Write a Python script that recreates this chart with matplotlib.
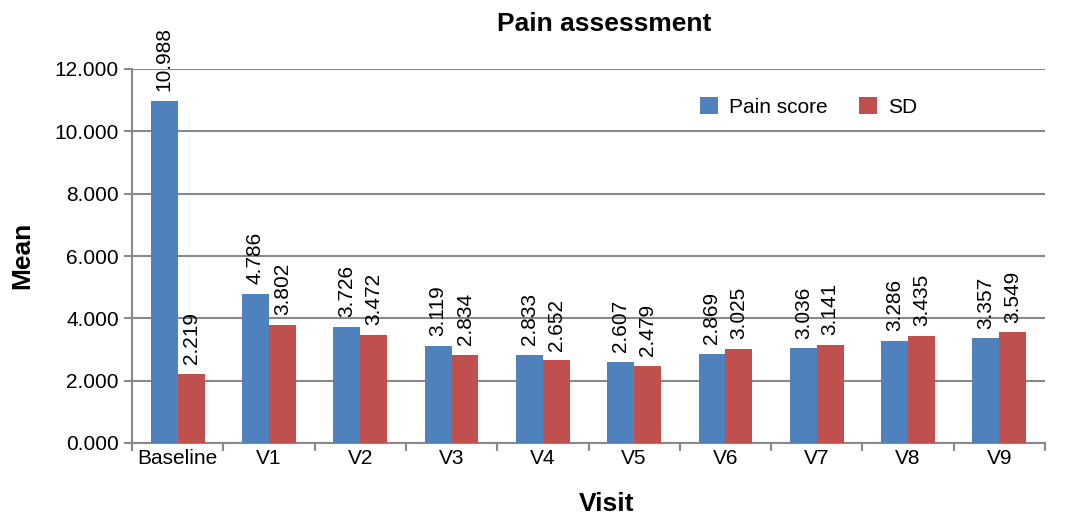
import matplotlib
matplotlib.use("Agg")
import matplotlib.pyplot as plt
import numpy as np

categories = ["Baseline", "V1", "V2", "V3", "V4", "V5", "V6", "V7", "V8", "V9"]
pain_score = [10.988, 4.786, 3.726, 3.119, 2.833, 2.607, 2.869, 3.036, 3.286, 3.357]
sd = [2.219, 3.802, 3.472, 2.834, 2.652, 2.479, 3.025, 3.141, 3.435, 3.549]
yticks = [0, 2, 4, 6, 8, 10, 12]

plt.rcParams['font.family'] = ['Liberation Sans', 'DejaVu Sans']

W, H = 1075, 514
fig = plt.figure(figsize=(W / 100, H / 100), dpi=100)
ax = fig.add_axes([132 / W, 1 - 443 / H, (1045 - 132) / W, (443 - 69) / H])

x = np.arange(len(categories))
w = 0.295
blue = "#4F81BD"
red = "#C0504D"
grey = "#898989"
b1 = ax.bar(x - w/2, pain_score, w, color=blue, label="Pain score", zorder=3)
b2 = ax.bar(x + w/2, sd, w, color=red, label="SD", zorder=3)

for bars, vals in ((b1, pain_score), (b2, sd)):
    for r, v in zip(bars, vals):
        ax.annotate(f"{v:.3f}", (r.get_x() + r.get_width()/2, v),
                    xytext=(0, 7), textcoords="offset points",
                    rotation=90, ha="center", va="bottom", fontsize=15)

ax.set_xlim(-0.5, len(categories) - 0.5)
ax.set_ylim(0, 12)
ax.set_yticks(yticks)
ax.set_yticklabels([f"{t:.3f}" for t in yticks], fontsize=15)
ax.yaxis.grid(True, color=grey, linewidth=1.5, zorder=0)

ax.set_xticks(x)
ax.set_xticklabels(categories, fontsize=15)
ax.tick_params(axis="x", which="major", length=0, pad=4)
ax.set_xticks(np.arange(-0.5, len(categories)), minor=True)
ax.tick_params(axis="x", which="minor", length=5.5, color=grey, width=1.5)
ax.tick_params(axis="y", length=5.5, color=grey, width=1.5, pad=4)

for s in ["top", "right"]:
    ax.spines[s].set_visible(False)
for s in ["left", "bottom"]:
    ax.spines[s].set_color(grey)
    ax.spines[s].set_linewidth(1.5)

fig.text(604 / W, 1 - 24 / H, "Pain assessment", fontsize=19, fontweight="bold",
         ha="center", va="center")
fig.text(22 / W, 1 - 255 / H, "Mean", fontsize=19, fontweight="bold",
         ha="center", va="center", rotation=90)
fig.text(607 / W, 1 - 504 / H, "Visit", fontsize=19, fontweight="bold",
         ha="center", va="center")

ax.legend(loc="center", bbox_to_anchor=(0.7415, 0.898), ncol=2, frameon=False,
          fontsize=15, handlelength=0.85, handleheight=0.85, columnspacing=1.5,
          handletextpad=0.55, borderpad=0.2)

fig.savefig("out.png", dpi=100)
